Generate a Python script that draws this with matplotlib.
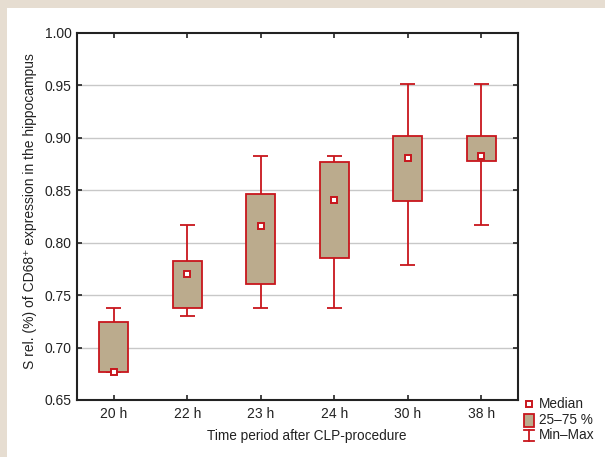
import matplotlib
matplotlib.use("Agg")
import matplotlib.pyplot as plt
from matplotlib.patches import Rectangle
from matplotlib.lines import Line2D

plt.rcParams["font.family"] = ["Liberation Sans", "DejaVu Sans"]

groups = ["20 h", "22 h", "23 h", "24 h", "30 h", "38 h"]
minimum = [0.677, 0.730, 0.738, 0.738, 0.779, 0.817]
q1 = [0.677, 0.738, 0.761, 0.785, 0.840, 0.878]
median = [0.677, 0.770, 0.816, 0.841, 0.881, 0.883]
q3 = [0.724, 0.783, 0.846, 0.877, 0.902, 0.902]
maximum = [0.738, 0.817, 0.883, 0.883, 0.951, 0.951]
yticks = [0.65, 0.70, 0.75, 0.80, 0.85, 0.90, 0.95, 1.00]

RED = "#c8161d"
TAN = "#bbab8d"
BEIGE = "#e6ddd1"
FS_TICK = 10
FS = 9.8

W, H = 605, 457
fig = plt.figure(figsize=(W / 100, H / 100), dpi=100, facecolor=BEIGE)
fig.patches.append(Rectangle((7 / W, 0), 1, (H - 8) / H, transform=fig.transFigure,
                             facecolor="white", edgecolor="none", zorder=-5))

ax = fig.add_axes([77 / W, 1 - 400 / H, 441 / W, 367 / H])
ax.set_facecolor("white")

x = list(range(len(groups)))
bw = 0.4
cw = 0.2
lw = 1.3

# whiskers
ax.vlines(x, q3, maximum, color=RED, lw=lw, zorder=2)
ax.vlines(x, minimum, q1, color=RED, lw=lw, zorder=2)
ax.hlines(maximum, [i - cw / 2 for i in x], [i + cw / 2 for i in x], color=RED, lw=lw, zorder=2)
ax.hlines(minimum, [i - cw / 2 for i in x], [i + cw / 2 for i in x], color=RED, lw=lw, zorder=2)
# boxes
ax.bar(x, [b - a for a, b in zip(q1, q3)], bottom=q1, width=bw, color=TAN,
       edgecolor=RED, linewidth=lw, zorder=3)
# medians
ax.plot(x, median, ls="none", marker="s", ms=5, mfc="white", mec=RED, mew=1.4, zorder=4)

ax.set_xlim(-0.5, len(groups) - 0.5)
ax.set_ylim(0.65, 1.00)
ax.set_xticks(x)
ax.set_xticklabels(groups)
ax.set_yticks(yticks)
ax.set_yticklabels([f"{v:.2f}" for v in yticks])
for v in yticks[1:-1]:
    ax.axhline(v, color="#c8c8c8", lw=1.0, zorder=1)

ax.tick_params(direction="in", length=3.5, width=1.2, labelsize=FS_TICK, colors="#222222",
               top=True, right=True, pad=5)
ax.tick_params(axis="y", pad=4)
for s in ax.spines.values():
    s.set_linewidth(1.5)
    s.set_color("#222222")
    s.set_zorder(5)

ax.set_xlabel("Time period after CLP-procedure", fontsize=FS, color="#222222", labelpad=6)
ax.set_ylabel("S rel. (%) of CD68\u207a expression in the hippocampus", fontsize=10,
              color="#222222", labelpad=5)
ax.xaxis.label.set_x(0.521)
ax.yaxis.label.set_y(0.514)

# legend drawn by hand, outside the axes (pixel positions)
def fx(px):
    return px / W

def fy(py):
    return 1 - py / H

fig.add_artist(Line2D([fx(529)], [fy(404)], ls="none", marker="s", ms=5, mfc="white",
                      mec=RED, mew=1.4, transform=fig.transFigure))
fig.add_artist(Rectangle((fx(524), fy(427)), 10 / W, 13 / H, transform=fig.transFigure,
                         facecolor=TAN, edgecolor=RED, linewidth=lw))
fig.add_artist(Line2D([fx(529), fx(529)], [fy(430), fy(441)], color=RED, lw=lw,
                      transform=fig.transFigure))
fig.add_artist(Line2D([fx(524), fx(534)], [fy(430), fy(430)], color=RED, lw=lw,
                      transform=fig.transFigure))
fig.add_artist(Line2D([fx(524), fx(534)], [fy(441), fy(441)], color=RED, lw=lw,
                      transform=fig.transFigure))
for label, py in [("Median", 404), ("25\u201375 %", 420), ("Min\u2013Max", 435)]:
    fig.text(fx(539), fy(py), label, fontsize=FS, color="#222222", va="center", ha="left")

fig.savefig("out.png", dpi=100, facecolor=BEIGE)
